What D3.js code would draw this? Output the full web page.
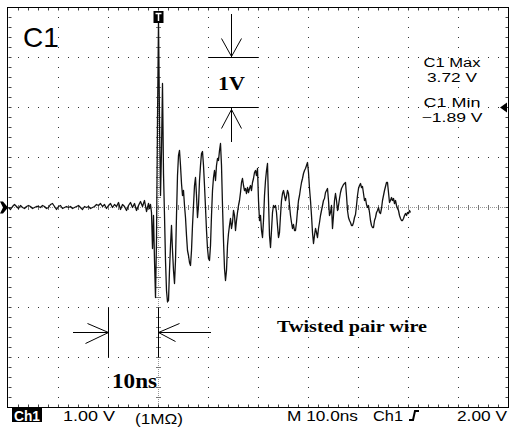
<!DOCTYPE html>
<html>
<head>
<meta charset="utf-8">
<script src="https://cdn.jsdelivr.net/npm/d3@7"></script>
<style>
  body { margin: 0; background: #fff; }
  svg { display: block; }
</style>
</head>
<body>
<div id="wrapper"></div>
<script>
// baseline before the pulse: one sample every 0.4 ns starting at -30 ns (volts)
const baselineStartNs = -30
const baselineStepNs = 0.4
const baselineVolts = [
  0.00, -0.04, 0.02, 0.06, 0.02, -0.02, 0.04, 0.00, -0.02, 0.02,
  0.04, 0.02, -0.02, 0.00, 0.02, 0.02, 0.00, 0.04, 0.02, -0.02,
  0.00, 0.06, 0.08, 0.02, -0.04, 0.02, 0.04, -0.02, 0.00, 0.02,
  0.00, 0.02, -0.02, 0.00, 0.02, 0.04, 0.00, -0.04, 0.02, 0.00,
  0.02, -0.02, 0.00, 0.02, 0.06, 0.04, 0.08, 0.02, 0.06, -0.02,
  0.04, 0.08, 0.00, 0.06, 0.02, 0.10, -0.04, 0.06, 0.02, -0.06,
  0.04, 0.10, 0.00, 0.08, -0.06, 0.04, 0.12, 0.02, 0.14, -0.08
]

// the pulse and ringing: one sample every 0.2 ns starting at -2 ns (volts)
const pulseStartNs = -2
const pulseStepNs = 0.2
const pulseVolts = [
  0.08, -0.02, 0.06, -0.10, -0.82, -0.16, -1.06, -1.80, -0.66, 1.74,
  3.72, 1.74, 0.24, 1.14, 2.48, 0.68, -0.16, -1.06, -1.66, -1.89,
  -1.86, -1.26, -0.76, -0.36, -0.86, -1.26, -1.52, -1.06, -0.16, 0.64,
  1.04, 1.14, 0.84, 0.48, 0.24, 0.34, 0.04, -0.20, -0.56, -0.86,
  -0.96, -1.10, -1.16, -0.86, -0.36, 0.04, 0.44, 0.60, 0.24, -0.20,
  0.04, 0.54, 0.84, 1.08, 1.12, 0.84, 0.44, 0.00, -0.46, -0.82,
  -1.02, -1.06, -0.76, -0.16, 0.34, 0.60, 0.74, 0.54, 0.84, 0.98,
  0.94, 1.14, 1.28, 0.84, 0.04, -0.66, -1.22, -1.46, -1.26, -0.76,
  -0.52, -0.36, -0.22, -0.42, -0.30, -0.06, -0.16, -0.46, -0.26, -0.10,
  0.04, 0.14, 0.30, 0.50, 0.58, 0.44, 0.34, 0.38, 0.28, 0.40,
  0.30, 0.38, 0.44, 0.34, 0.50, 0.58, 0.70, 0.74, 0.64, 0.78,
  0.14, -0.26, -0.16, -0.46, -0.60, -0.26, 0.24, 0.54, 0.74, 0.88,
  0.14, -0.56, -0.80, -0.46, -0.10, 0.04, 0.00, 0.04, -0.10, -0.36,
  -0.60, -0.50, -0.16, 0.14, 0.28, 0.34, 0.24, 0.14, 0.22, 0.34,
  0.28, 0.04, -0.16, -0.30, -0.42, -0.34, -0.46, -0.46, -0.30, -0.06,
  0.14, 0.24, 0.38, 0.50, 0.58, 0.68, 0.74, 0.78, 0.84, 0.90,
  0.70, 0.38, 0.14, -0.16, -0.50, -0.72, -0.56, -0.42, -0.50, -0.60,
  -0.42, -0.30, -0.16, -0.06, 0.04, 0.14, 0.18, 0.30, 0.34, 0.38,
  0.14, -0.16, -0.10, 0.04, -0.42, -0.16, 0.14, 0.28, 0.14, -0.06,
  0.04, 0.18, 0.30, 0.38, 0.42, 0.46, 0.48, 0.50, 0.24, -0.06,
  -0.20, -0.26, -0.30, -0.36, -0.36, -0.30, -0.20, -0.14, 0.04, 0.24,
  0.38, 0.44, 0.48, 0.40, 0.42, 0.28, 0.14, 0.18, 0.06, 0.00,
  0.04, -0.10, -0.26, -0.36, -0.40, -0.40, -0.26, -0.20, -0.10, -0.06,
  0.00, -0.10, -0.12, -0.02, 0.14, 0.24, 0.34, 0.42, 0.50, 0.50,
  0.30, 0.10, 0.14, 0.20, 0.14, 0.18, 0.08, 0.14, 0.04, -0.02,
  -0.06, -0.16, -0.22, -0.26, -0.26, -0.22, -0.16, -0.12, -0.16, -0.10,
  -0.12, -0.06, -0.10
]

// scope settings and readouts
const timeDomain = [-30, 70]     // ns, 10 divisions of 10 ns
const voltDomain = [-4, 4]       // V, 8 divisions of 1 V
const triggerLevel = 2.00
const channelLabel = "C1"
const measureLabels = ["C1 Max", "3.72 V", "C1 Min", "\u22121.89 V"]
const statusLeft = ["1.00 V", "(1M\u03a9)"]
const statusRight = ["M 10.0ns", "Ch1", "2.00 V"]
const noteLabels = ["1V", "10ns", "Twisted pair wire"]

const trace = baselineVolts.map((v, i) => ({ t: baselineStartNs + i * baselineStepNs, v }))
  .concat(pulseVolts.map((v, i) => ({ t: pulseStartNs + i * pulseStepNs, v })))

let dimensions = {
  width: 509,
  height: 430,
  left: 8.5,
  right: 508.5,
  top: 7.5,
  bottom: 407.5,
}

const wrapper = d3.select("#wrapper")
  .append("svg")
    .attr("width", dimensions.width)
    .attr("height", dimensions.height)

const xScale = d3.scaleLinear()
  .domain(timeDomain)
  .range([dimensions.left, dimensions.right])

const yScale = d3.scaleLinear()
  .domain(voltDomain)
  .range([dimensions.bottom, dimensions.top])

const grid = wrapper.append("g")

// dotted major grid lines (dots every 1/5 division)
const majorT = d3.range(-20, 70, 10).filter(t => t !== 0)
const majorV = d3.range(-3, 4, 1).filter(v => v !== 0)
const subT = d3.range(1, 50).map(i => timeDomain[0] + i * 2)
const subV = d3.range(1, 40).map(i => voltDomain[0] + i * 0.2)

majorT.forEach(t => {
  grid.selectAll(null).data(subV).join("rect")
    .attr("x", xScale(t) - 0.5).attr("y", d => yScale(d) - 0.5)
    .attr("width", 1).attr("height", 1).attr("fill", "#333")
})
majorV.forEach(v => {
  grid.selectAll(null).data(subT).join("rect")
    .attr("x", d => xScale(d) - 0.5).attr("y", yScale(v) - 0.5)
    .attr("width", 1).attr("height", 1).attr("fill", "#333")
})

// centre cross: fine gray dots plus tick marks
const fineT = d3.range(0, 251).map(i => timeDomain[0] + i * 0.4)
const fineV = d3.range(0, 201).map(i => voltDomain[0] + i * 0.04)
grid.selectAll(null).data(fineT).join("rect")
  .attr("x", d => xScale(d) - 0.5).attr("y", yScale(0) - 0.5)
  .attr("width", 1).attr("height", 1).attr("fill", "#999")
grid.selectAll(null).data(fineV).join("rect")
  .attr("x", xScale(0) - 0.5).attr("y", d => yScale(d) - 0.5)
  .attr("width", 1).attr("height", 1).attr("fill", "#999")
grid.selectAll(null).data(subT).join("line")
  .attr("x1", d => xScale(d)).attr("x2", d => xScale(d))
  .attr("y1", yScale(0) - 2.5).attr("y2", yScale(0) + 2.5)
  .attr("stroke", "#777")
grid.selectAll(null).data(subV).join("line")
  .attr("y1", d => yScale(d)).attr("y2", d => yScale(d))
  .attr("x1", xScale(0) - 2.5).attr("x2", xScale(0) + 2.5)
  .attr("stroke", "#777")

// border ticks
grid.selectAll(null).data(subT).join("line")
  .attr("x1", d => xScale(d)).attr("x2", d => xScale(d))
  .attr("y1", dimensions.top).attr("y2", dimensions.top + 3)
  .attr("stroke", "#444")
grid.selectAll(null).data(subT).join("line")
  .attr("x1", d => xScale(d)).attr("x2", d => xScale(d))
  .attr("y1", dimensions.bottom - 3).attr("y2", dimensions.bottom)
  .attr("stroke", "#444")
grid.selectAll(null).data(subV).join("line")
  .attr("y1", d => yScale(d)).attr("y2", d => yScale(d))
  .attr("x1", dimensions.left).attr("x2", dimensions.left + 3)
  .attr("stroke", "#444")
grid.selectAll(null).data(subV).join("line")
  .attr("y1", d => yScale(d)).attr("y2", d => yScale(d))
  .attr("x1", dimensions.right - 3).attr("x2", dimensions.right)
  .attr("stroke", "#444")

grid.append("rect")
  .attr("x", dimensions.left - 1).attr("y", dimensions.top)
  .attr("width", dimensions.right - dimensions.left + 1)
  .attr("height", dimensions.bottom - dimensions.top)
  .attr("fill", "none").attr("stroke", "#000")

// waveform
const lineGenerator = d3.line()
  .x(d => xScale(d.t))
  .y(d => yScale(d.v))

wrapper.append("path")
  .attr("d", lineGenerator(trace))
  .attr("fill", "none")
  .attr("stroke", "#111")
  .attr("stroke-width", 1.3)
  .attr("stroke-linejoin", "round")

// markers: ground level, trigger position, trigger level
const gy = yScale(0)
wrapper.append("path")
  .attr("d", `M0,${gy - 6} L3,${gy - 6} L8,${gy} L3,${gy + 6} L0,${gy + 6} L3,${gy} Z`)
  .attr("fill", "#000")

const tx = xScale(0)
wrapper.append("rect")
  .attr("x", tx - 5).attr("y", 11).attr("width", 10).attr("height", 12)
  .attr("fill", "#000")
wrapper.append("path")
  .attr("d", `M${tx - 3},13.5 H${tx + 3} M${tx},13.5 V21`)
  .attr("stroke", "#fff").attr("stroke-width", 1.5)

const ty = yScale(triggerLevel)
wrapper.append("path")
  .attr("d", `M500,${ty} L507,${ty - 5} L507,${ty + 5} Z`)
  .attr("fill", "#000")

// channel label
wrapper.append("text")
  .attr("x", 23).attr("y", 47)
  .attr("font-family", "Liberation Sans, Arial, sans-serif")
  .attr("font-size", 28)
  .text(channelLabel)

// measurement readouts
const measureY = [66.5, 81.5, 107, 122]
wrapper.selectAll(null).data(measureLabels).join("text")
  .attr("x", 452).attr("y", (d, i) => measureY[i])
  .attr("text-anchor", "middle")
  .attr("font-family", "Liberation Sans, Arial, sans-serif")
  .attr("font-size", 12.5)
  .attr("textLength", (d, i) => [57, 50, 57, 61][i])
  .attr("lengthAdjust", "spacingAndGlyphs")
  .text(d => d)

// status line
const sans = "Liberation Sans, Arial, sans-serif"
wrapper.append("rect")
  .attr("x", 12).attr("y", 408).attr("width", 30).attr("height", 14)
  .attr("fill", "#000")
wrapper.append("text")
  .attr("x", 14).attr("y", 420.5)
  .attr("font-family", sans).attr("font-size", 14).attr("font-weight", "bold")
  .attr("fill", "#fff")
  .attr("textLength", 26).attr("lengthAdjust", "spacingAndGlyphs")
  .text("Ch1")

const statusItems = [
  { text: statusLeft[0], x: 63, y: 420.5, w: 52 },
  { text: statusLeft[1], x: 135, y: 424, w: 48 },
  { text: statusRight[0], x: 287, y: 421, w: 71 },
  { text: statusRight[1], x: 373, y: 421, w: 30 },
  { text: statusRight[2], x: 457, y: 421, w: 50 },
]
wrapper.selectAll(null).data(statusItems).join("text")
  .attr("x", d => d.x).attr("y", d => d.y)
  .attr("font-family", sans).attr("font-size", 14)
  .attr("textLength", d => d.w).attr("lengthAdjust", "spacingAndGlyphs")
  .text(d => d.text)

// rising edge symbol
wrapper.append("path")
  .attr("d", "M409,420 H413 L415,411 H419")
  .attr("fill", "none").attr("stroke", "#000").attr("stroke-width", 2)

// annotations
const notes = wrapper.append("g").attr("stroke", "#000").attr("fill", "none")
const serif = "Liberation Serif, Times New Roman, serif"

// 1V bracket
const y3 = yScale(3), y2 = yScale(2)
const ax = xScale(14.6)
notes.append("line").attr("x1", xScale(10)).attr("x2", xScale(20) - 0.5).attr("y1", y3).attr("y2", y3)
notes.append("line").attr("x1", xScale(10)).attr("x2", xScale(20) - 0.5).attr("y1", y2).attr("y2", y2)
notes.append("path").attr("d", `M${ax},14 V${y3} M${ax - 10},${y3 - 19} L${ax},${y3 - 1} L${ax + 10},${y3 - 19}`)
notes.append("path").attr("d", `M${ax},${y2} V142 M${ax - 10},${y2 + 21} L${ax},${y2 + 2} L${ax + 10},${y2 + 21}`)

wrapper.append("text")
  .attr("x", 218).attr("y", 90)
  .attr("font-family", serif).attr("font-size", 19).attr("font-weight", "bold")
  .attr("textLength", 27).attr("lengthAdjust", "spacingAndGlyphs")
  .text(noteLabels[0])

// 10ns bracket
const xa = xScale(-10), xb = xScale(0)
const ya = yScale(-2), yb = yScale(-3), ym = yScale(-2.5)
notes.append("line").attr("x1", xa).attr("x2", xa).attr("y1", ya).attr("y2", yb)
notes.append("line").attr("x1", xb).attr("x2", xb).attr("y1", ya).attr("y2", yb)
notes.append("path").attr("d", `M73,${ym} H${xa} M${xa - 21},${ym - 9} L${xa},${ym} L${xa - 23},${ym + 11}`)
notes.append("path").attr("d", `M${xb},${ym} H211 M${xb + 21},${ym - 9} L${xb},${ym} L${xb + 17},${ym + 9}`)

wrapper.append("text")
  .attr("x", 112).attr("y", 388)
  .attr("font-family", serif).attr("font-size", 21).attr("font-weight", "bold")
  .attr("textLength", 45).attr("lengthAdjust", "spacingAndGlyphs")
  .text(noteLabels[1])

wrapper.append("text")
  .attr("x", 277).attr("y", 332)
  .attr("font-family", serif).attr("font-size", 17).attr("font-weight", "bold")
  .attr("textLength", 150).attr("lengthAdjust", "spacingAndGlyphs")
  .text(noteLabels[2])
</script>
</body>
</html>
